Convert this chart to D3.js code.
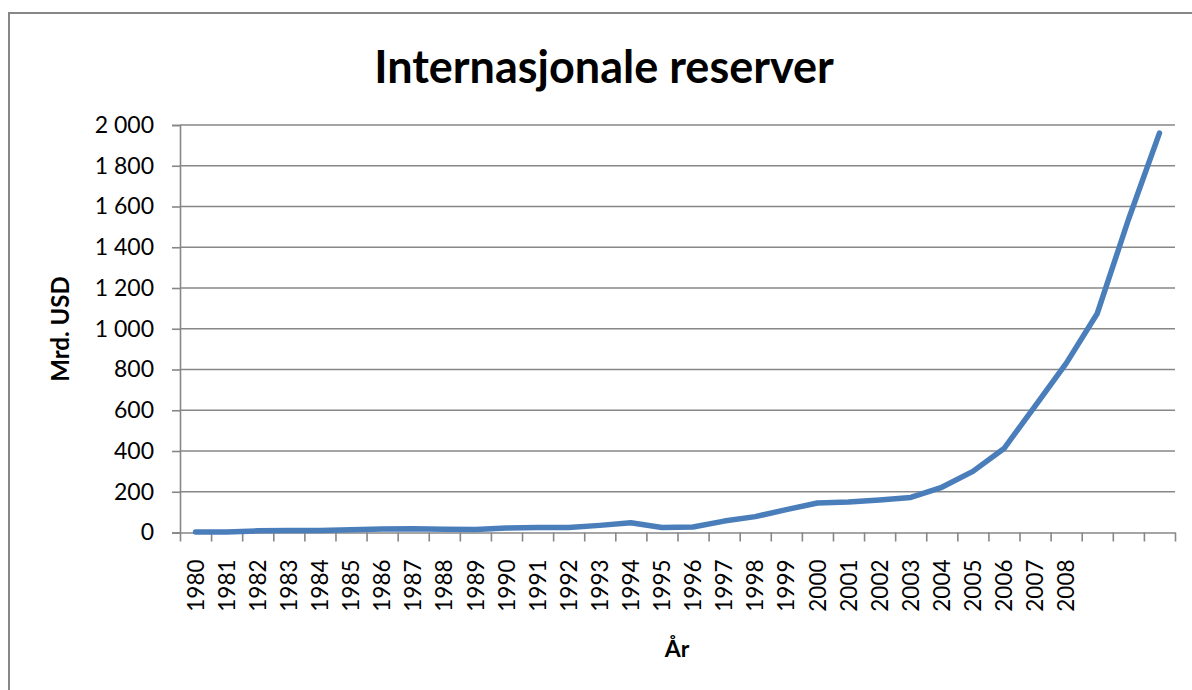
<!DOCTYPE html>
<html>
<head>
<meta charset="utf-8">
<script src="https://cdn.jsdelivr.net/npm/d3@7"></script>
<style>
  body { margin: 0; background: #fff; }
  text { font-family: Lato, "Open Sans", sans-serif; }
</style>
</head>
<body>
<div id="chart"></div>
<script>
// Data (billion USD per year)
var years = ["1980", "1981", "1982", "1983", "1984", "1985", "1986", "1987", "1988", "1989",
             "1990", "1991", "1992", "1993", "1994", "1995", "1996", "1997", "1998", "1999",
             "2000", "2001", "2002", "2003", "2004", "2005", "2006", "2007", "2008", "2009",
             "2010", "2011"]
// the last three categories have no label in the original
var yearLabels = ["1980", "1981", "1982", "1983", "1984", "1985", "1986", "1987", "1988", "1989",
                  "1990", "1991", "1992", "1993", "1994", "1995", "1996", "1997", "1998", "1999",
                  "2000", "2001", "2002", "2003", "2004", "2005", "2006", "2007", "2008", "", "", ""]
var reserves = [3, 3, 8, 10, 10, 14, 17, 19, 16, 15,
                22, 24, 24, 35, 48, 25, 27, 56, 78, 112,
                145, 150, 160, 172, 222, 300, 412, 620, 830, 1075,
                1535, 1960]
var yTicks = [0, 200, 400, 600, 800, 1000, 1200, 1400, 1600, 1800, 2000]

var title = "Internasjonale reserver"
var yLabel = "Mrd. USD"
var xLabel = "År"

// Some global parameters
var width = 1192;
var height = 690;
var plot = {left: 180, right: 1175, top: 125, bottom: 532.5};
var lineColor = "#4a7ebb"
var axisColor = "#878787"

var nb = d3.formatLocale({decimal: ",", thousands: " ", grouping: [3], currency: ["", ""]})
var fmt = nb.format(",")

const svg = d3.select("#chart")
              .append("svg")
              .attr("width", width)
              .attr("height", height)

// Chart border (runs off the picture on the right and bottom)
svg.append("rect")
   .attr("x", 9).attr("y", 13)
   .attr("width", 1400).attr("height", 900)
   .attr("fill", "none")
   .attr("stroke", axisColor)
   .attr("stroke-width", 2)

var xScale = d3.scaleBand()
               .domain(years)
               .range([plot.left, plot.right])

var xEdges = d3.scaleLinear()
               .domain([0, years.length])
               .range([plot.left, plot.right])

var yScale = d3.scaleLinear()
               .domain([0, 2000])
               .range([plot.bottom, plot.top])

// Horizontal gridlines
svg.append("g")
   .selectAll("line")
   .data(yTicks.filter((d) => d > 0))
   .enter()
   .append("line")
   .attr("x1", plot.left).attr("x2", plot.right)
   .attr("y1", (d) => yScale(d)).attr("y2", (d) => yScale(d))
   .attr("stroke", axisColor)
   .attr("stroke-width", 1.6)

// Y axis
var yAxis = d3.axisLeft(yScale).tickValues(yTicks).tickFormat(fmt).tickSize(8).tickPadding(18)
svg.append("g")
   .attr("transform", "translate(" + plot.left + ",0)")
   .call(yAxis)
   .call((g) => g.select(".domain").attr("stroke", axisColor).attr("stroke-width", 1.6))
   .call((g) => g.selectAll(".tick line").attr("stroke", axisColor).attr("stroke-width", 1.6))
   .selectAll("text")
   .attr("font-family", "Lato")
   .attr("font-size", 23)
   .attr("fill", "#000")

// X axis: tick marks between categories
var xTickAxis = d3.axisBottom(xEdges).tickValues(d3.range(0, years.length + 1)).tickFormat("").tickSize(9).tickSizeOuter(0)
svg.append("g")
   .attr("transform", "translate(0," + plot.bottom + ")")
   .call(xTickAxis)
   .call((g) => g.select(".domain").attr("stroke", axisColor).attr("stroke-width", 1.6))
   .call((g) => g.selectAll(".tick line").attr("stroke", axisColor).attr("stroke-width", 1.6))

// X axis: rotated category labels
var xAxis = d3.axisBottom(xScale).tickSize(0).tickFormat((d, i) => yearLabels[i])
svg.append("g")
   .attr("transform", "translate(0," + plot.bottom + ")")
   .call(xAxis)
   .call((g) => g.select(".domain").remove())
   .selectAll("text")
   .attr("font-family", "Lato")
   .attr("font-size", 22.5)
   .attr("fill", "#000")
   .attr("transform", "rotate(-90)")
   .attr("x", -27)
   .attr("y", 0)
   .attr("dy", "0.36em")
   .style("text-anchor", "end")

// Reserves line
svg.append("path")
   .datum(reserves)
   .attr("d", d3.line()
                .x((d, i) => xScale(years[i]) + xScale.bandwidth() / 2)
                .y((d) => yScale(d)))
   .attr("fill", "none")
   .attr("stroke", lineColor)
   .attr("stroke-width", 5.5)
   .attr("stroke-linecap", "round")
   .attr("stroke-linejoin", "round")

// Title and axis labels
svg.append("text")
   .attr("x", 604)
   .attr("y", 83)
   .attr("text-anchor", "middle")
   .attr("font-size", 45)
   .attr("font-weight", "bold")
   .text(title)

svg.append("text")
   .attr("transform", "translate(69,329) rotate(-90)")
   .attr("text-anchor", "middle")
   .attr("font-size", 24)
   .attr("font-weight", "bold")
   .text(yLabel)

svg.append("text")
   .attr("x", 677)
   .attr("y", 657)
   .attr("text-anchor", "middle")
   .attr("font-size", 23)
   .attr("font-weight", "bold")
   .text(xLabel)
</script>
</body>
</html>
